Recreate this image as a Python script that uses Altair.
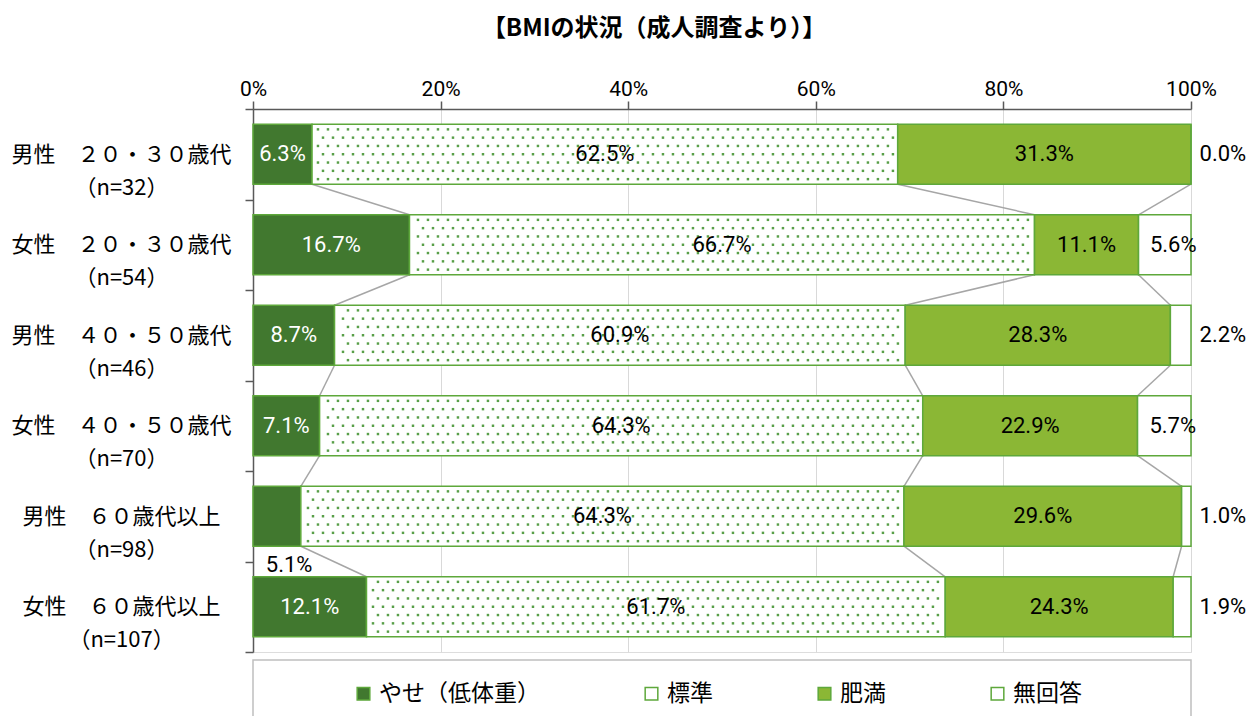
import altair as alt
import pandas as pd

# ---- data ----
groups = ["男性　２０・３０歳代", "女性　２０・３０歳代", "男性　４０・５０歳代",
          "女性　４０・５０歳代", "男性　６０歳代以上", "女性　６０歳代以上"]
ns = ["（n=32）", "（n=54）", "（n=46）", "（n=70）", "（n=98）", "（n=107）"]
cats = ["やせ（低体重）", "標準", "肥満", "無回答"]
yase = [6.3, 16.7, 8.7, 7.1, 5.1, 12.1]
hyojun = [62.5, 66.7, 60.9, 64.3, 64.3, 61.7]
himan = [31.3, 11.1, 28.3, 22.9, 29.6, 24.3]
mukaitou = [0.0, 5.6, 2.2, 5.7, 1.0, 1.9]
x_ticks = [0, 0.2, 0.4, 0.6, 0.8, 1.0]

colors = ["#41782F", "#FFFFFF", "#8BB735", "#FFFFFF"]
EDGE = "#5EA83B"
DOT = "#4F9A3E"
JP = "Noto Sans CJK JP"
NUM = "Roboto, Liberation Sans, sans-serif"

series = [yase, hyojun, himan, mukaitou]
rows = []
for ci, (c, vals) in enumerate(zip(cats, series)):
    for ri, v in enumerate(vals):
        rows.append({"row": ri, "cat": c, "order": ci, "value": v})
df = pd.DataFrame(rows)

HALF = 0.331  # half bar thickness in row units

base = alt.Chart(df).transform_stack(
    stack="value", groupby=["row"], as_=["x0", "x1"], offset="normalize",
    sort=[alt.SortField("order")]
).transform_calculate(
    yt=f"datum.row - {HALF}", yb=f"datum.row + {HALF}"
)

labels_arr = "[" + ",".join(f"'{g}|{n}'" for g, n in zip(groups, ns)) + "]"
ytick_vals = [i * 0.5 - 0.5 for i in range(13)]

xscale = alt.Scale(domain=[0, 1], nice=False, zero=False)
yscale = alt.Scale(domain=[-0.5, 5.5], reverse=True, nice=False, zero=False)

x_axis = alt.Axis(orient="top", values=x_ticks, format=".0%", title=None,
                  grid=True, gridColor="#D9D9D9", gridWidth=1,
                  domainColor="#595959", domainWidth=1.5, tickColor="#595959",
                  tickSize=8, tickWidth=1.5, labelFont=NUM, labelFontSize=21,
                  labelColor="#000000", labelPadding=2, labelFlush=False)
y_axis = alt.Axis(values=ytick_vals, title=None, grid=False,
                  domainColor="#595959", domainWidth=1.5, tickColor="#595959",
                  tickSize=8, tickWidth=1.5,
                  tickOpacity={"condition": {"test": "datum.value % 1 !== 0", "value": 1}, "value": 0},
                  labelExpr=f"datum.value % 1 === 0 ? split({labels_arr}[datum.value], '|') : ''",
                  labelAlign="center", labelBaseline="middle", labelPadding=124,
                  labelLineHeight=33, labelFont=JP, labelFontSize=22,
                  labelColor="#000000", labelOverlap=False, labelBound=False,
                  labelLimit=500)

# connector (series) lines
lines = base.transform_window(
    nx="lead(x1)", groupby=["cat"], sort=[alt.SortField("row")]
).transform_filter(
    "isValid(datum.nx) && datum.order < 3"
).transform_calculate(
    y1l=f"datum.row + {HALF}", y2l=f"datum.row + 1 - {HALF}"
).mark_rule(color="#A6A6A6", strokeWidth=1.5).encode(
    x=alt.X("x1:Q", scale=xscale, axis=x_axis),
    x2="nx:Q",
    y=alt.Y("y1l:Q", scale=yscale, axis=y_axis),
    y2="y2l:Q",
)

bars = base.mark_rect(stroke=EDGE, strokeWidth=1.5).encode(
    x=alt.X("x0:Q", scale=xscale),
    x2="x1:Q",
    y=alt.Y("yt:Q", scale=yscale),
    y2="yb:Q",
    color=alt.Color("cat:N", scale=alt.Scale(domain=cats, range=colors),
                    legend=alt.Legend(orient="none", legendX=99, legendY=573,
                                      direction="horizontal", columns=4, title=None,
                                      symbolType="square", symbolSize=160,
                                      symbolStrokeColor=EDGE, symbolStrokeWidth=1.5,
                                      symbolOpacity=1,
                                      labelFont=JP, labelFontSize=23, labelColor="#000000",
                                      columnPadding=100, labelOffset=4, padding=0,
                                      labelLimit=400)),
)

# dotted texture of the "標準" segments
dots = base.transform_filter("datum.order == 1").transform_calculate(
    dyi="sequence(-3, 4)"
).transform_flatten(["dyi"]).transform_calculate(
    dxi="sequence(0, 95)"
).transform_flatten(["dxi"]).transform_calculate(
    px="datum.dxi * 0.01066 + (datum.dyi % 2 !== 0 ? 0.0053 : 0.0)",
    py="datum.row + datum.dyi * 0.0917"
).transform_filter(
    "datum.px > datum.x0 + 0.004 && datum.px < datum.x1 - 0.004"
).mark_square(size=6, color=DOT, opacity=0.95).encode(
    x=alt.X("px:Q", scale=xscale),
    y=alt.Y("py:Q", scale=yscale),
)

# value labels
special = "(datum.row == 4 && datum.order == 0)"
texts = base.transform_calculate(
    txt="format(datum.value, '.1f') + '%'",
    lx=f"(datum.order == 3 && datum.value < 3) ? 1.034 : "
       f"(datum.x0 + datum.x1) / 2 + (datum.order == 3 ? 0.009 : 0) + ({special} ? 0.013 : 0)",
    ly=f"datum.row + ({special} ? 0.54 : 0)",
    tc=f"(datum.order == 0 && !{special}) ? 'white' : 'black'",
).mark_text(font=NUM, fontSize=22, baseline="middle", align="center").encode(
    x=alt.X("lx:Q", scale=xscale),
    y=alt.Y("ly:Q", scale=yscale),
    text="txt:N",
    color=alt.Color("tc:N", scale=None),
)

# legend frame
frame = alt.Chart(pd.DataFrame({"k": [0]})).mark_rect(
    fill=None, stroke="#BFBFBF", strokeWidth=1.5
).encode(x=alt.value(0), x2=alt.value(938), y=alt.value(551), y2=alt.value(720))

chart = alt.layer(lines, bars, dots, texts, frame).properties(
    width=938, height=543,
    title=alt.TitleParams("【BMIの状況（成人調査より）】", font=JP, fontSize=24,
                          fontWeight="bold", color="#000000", anchor="middle",
                          dx=-68, offset=37),
    autosize=alt.AutoSizeParams(type="none"),
    padding={"left": 245, "top": 101, "right": 59, "bottom": 64},
).configure_view(stroke="#8C8C8C", strokeWidth=1.5).configure(background="white")

chart.save("out.html", embed_options={"renderer": "svg", "actions": False})
